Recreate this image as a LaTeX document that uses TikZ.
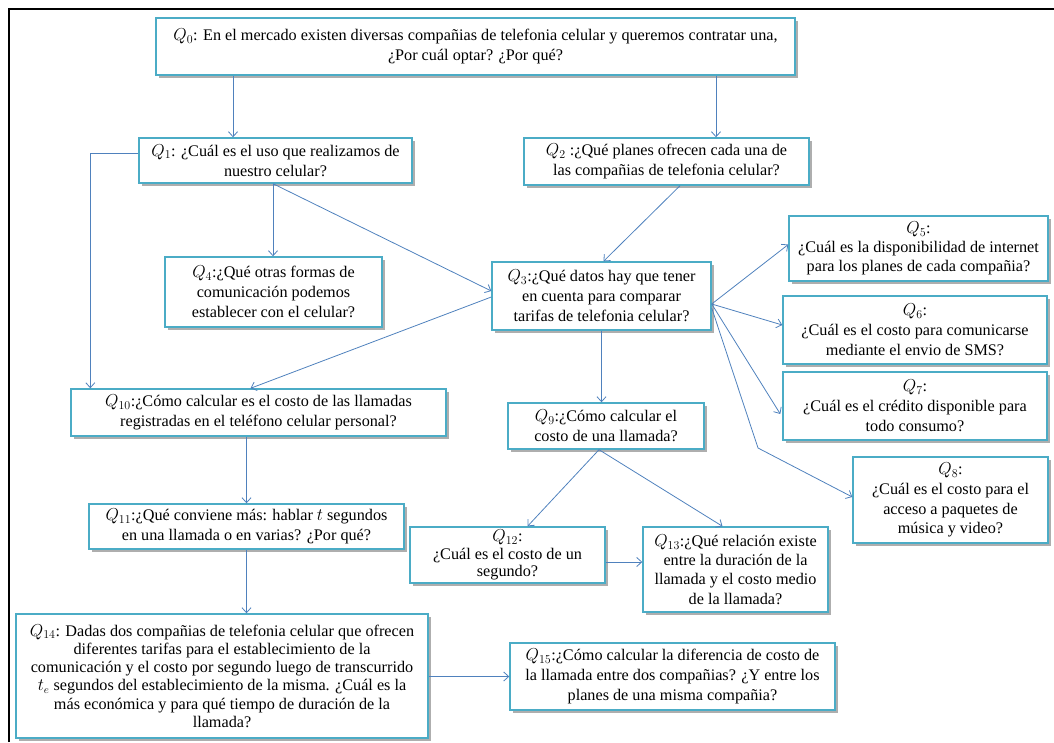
\documentclass[tikz,border=0pt]{standalone}
\usepackage{fontspec}
\setmainfont{Liberation Serif}
\usetikzlibrary{arrows.meta,shadows,calc}
\definecolor{boxc}{HTML}{4BACC6}
\definecolor{arrc}{HTML}{4F81BD}
\newcommand\qlab[1]{{\fontsize{18.5}{19}\selectfont$Q_{#1}$}}
\tikzset{
  qbox/.style={draw=boxc, line width=1.4pt, fill=white, align=center, inner sep=1pt,
    font=\fontsize{16.2}{19.8}\selectfont,
    drop shadow={shadow xshift=2.5pt, shadow yshift=-2.5pt, fill=black!45, opacity=0.7}},
  arr/.style={draw=arrc, line width=0.8pt, -{Straight Barb[length=5pt,width=9pt]}},
}
\begin{document}
\begin{tikzpicture}[x=1pt,y=-1pt]
\useasboundingbox (0,0) rectangle (1054,742);
% frame
\coordinate (ftl) at (9,9);
\coordinate (ftr) at (1054,9);
\coordinate (fbl) at (9,742);
\draw[line width=2pt] (fbl) -- (ftl) -- (ftr);
% boxes
\node[qbox, minimum width=639, minimum height=57] (Q0) at (475.5,46.5)
  {\qlab{0}: En el mercado existen diversas compañias de telefonia celular y queremos contratar una,\\ ¿Por cuál optar? ¿Por qué?};
\node[qbox, minimum width=273, minimum height=45] (Q1) at (275.5,160.5)
  {\qlab{1}: ¿Cuál es el uso que realizamos de\\ nuestro celular?};
\node[qbox, minimum width=285, minimum height=47] (Q2) at (666.5,161.5)
  {\qlab{2} :¿Qué planes ofrecen cada una de\\ las compañias de telefonia celular?};
\node[qbox, minimum width=217, minimum height=70] (Q4) at (273.5,292)
  {\qlab{4}:¿Qué otras formas de\\ comunicación podemos\\ establecer con el celular?};
\node[qbox, minimum width=219, minimum height=68] (Q3) at (601.5,296)
  {\qlab{3}:¿Qué datos hay que tener\\ en cuenta para comparar\\ tarifas de telefonia celular?};
\node[qbox, minimum width=259, minimum height=65, font=\fontsize{16.2}{19}\selectfont] (Q5) at (918.5,248.5)
  {\qlab{5}:\\ ¿Cuál es la disponibilidad de internet\\ para los planes de cada compañia?};
\node[qbox, minimum width=264, minimum height=68] (Q6) at (915,330)
  {\qlab{6}:\\ ¿Cuál es el costo para comunicarse\\ mediante el envio de SMS?};
\node[qbox, minimum width=264, minimum height=68] (Q7) at (915,406)
  {\qlab{7}:\\ ¿Cuál es el crédito disponible para\\ todo consumo?};
\node[qbox, minimum width=195, minimum height=86] (Q8) at (950.5,500)
  {\qlab{8}:\\ ¿Cuál es el costo para el\\ acceso a paquetes de\\ música y video?};
\node[qbox, minimum width=375, minimum height=47] (Q10) at (258.5,412.5)
  {\qlab{10}:¿Cómo calcular es el costo de las llamadas\\ registradas en el teléfono celular personal?};
\node[qbox, minimum width=196, minimum height=46] (Q9) at (606,426)
  {\qlab{9}:¿Cómo calcular el\\ costo de una llamada?};
\node[qbox, minimum width=315, minimum height=45] (Q11) at (246.5,526.5)
  {\qlab{11}:¿Qué conviene más: hablar $t$ segundos\\ en una llamada o en varias? ¿Por qué?};
\node[qbox, minimum width=195, minimum height=56, font=\fontsize{16.2}{17.2}\selectfont] (Q12) at (507.5,555)
  {\qlab{12}:\\ ¿Cuál es el costo de un\\ segundo?};
\node[qbox, minimum width=185, minimum height=85, font=\fontsize{16.2}{19.2}\selectfont] (Q13) at (735.5,569.5)
  {\qlab{13}:¿Qué relación existe\\ entre la duración de la\\ llamada y el costo medio\\ de la llamada?};
\node[qbox, minimum width=412, minimum height=124, font=\fontsize{16.2}{18.3}\selectfont] (Q14) at (222,676)
  {\qlab{14}: Dadas dos compañias de telefonia celular que ofrecen\\ diferentes tarifas para el establecimiento de la\\ comunicación y el costo por segundo luego de transcurrido\\ $t_{e}$ segundos del establecimiento de la misma. ¿Cuál es la\\ más económica y para qué tiempo de duración de la\\ llamada?};
\node[qbox, minimum width=325, minimum height=67] (Q15) at (672.5,676.5)
  {\qlab{15}:¿Cómo calcular la diferencia de costo de\\ la llamada entre dos compañias? ¿Y entre los\\ planes de una misma compañia?};
% helper coordinates
\coordinate (a1) at ([xshift=-42.5]Q1.north);
\coordinate (a2) at ([xshift=49.5]Q2.north);
\coordinate (b1) at ([xshift=-2.5]Q1.south);
\coordinate (c1) at ([yshift=7]Q1.west);
\coordinate (c3) at ([xshift=20]Q10.north west);
\coordinate (d1) at ([xshift=13.5]Q2.south);
\coordinate (d2) at ([xshift=2]Q3.north);
\coordinate (e1) at ([yshift=5]Q3.west);
\coordinate (e2) at ([yshift=-1]Q3.west);
\coordinate (e3) at ([xshift=-8]Q10.north);
\coordinate (f1) at ([yshift=-8]Q3.east);
\coordinate (f2) at ([yshift=-12]Q3.east);
\coordinate (f3) at (758,448);
\coordinate (g1) at ([xshift=-7]Q9.south);
\coordinate (g2) at ([xshift=20]Q12.north);
\coordinate (g3) at ([xshift=-13]Q13.north);
\coordinate (h1) at ([yshift=-7]Q12.east);
% connectors
\draw[arr] (a1 |- Q0.south) -- (a1);
\draw[arr] (a2 |- Q0.south) -- (a2);
\draw[arr] (c1) -- (c3 |- c1) -- (c3);
\draw[arr] (b1) -- (b1 |- Q4.north);
\draw[arr] (b1) -- (e1);
\draw[arr] (d1) -- (d2);
\draw[arr] (e2) -- (e3);
\draw[arr] (Q3.south) -- (Q3.south |- Q9.north);
\draw[arr] (f1) -- ([yshift=4]Q5.west);
\draw[arr] (f1) -- ([yshift=5]Q6.west);
\draw[arr] (f1) -- ([xshift=-2,yshift=-8]Q7.west);
\draw[arr] (f2) -- (f3) -- ([yshift=3]Q8.west);
\draw[arr] (Q11.north |- Q10.south) -- (Q11.north);
\draw[arr] (Q11.south) -- (Q11.south |- Q14.north);
\draw[arr] (g1) -- (g2);
\draw[arr] (g1) -- (g3);
\draw[arr] (h1) -- (h1 -| Q13.west);
\draw[arr] (Q14.east |- Q15.west) -- (Q15.west);
\end{tikzpicture}
\end{document}
